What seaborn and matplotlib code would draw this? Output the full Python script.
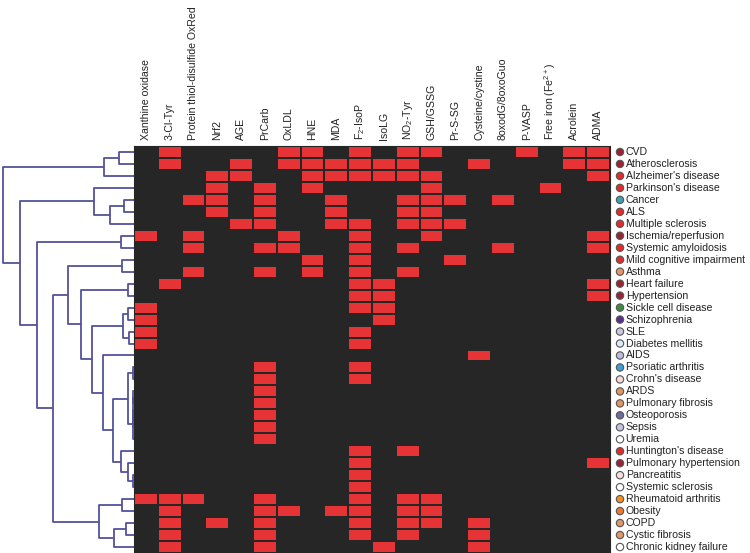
import matplotlib
matplotlib.use("Agg")
import matplotlib.pyplot as plt
from matplotlib.colors import ListedColormap
import numpy as np
import pandas as pd
import seaborn as sns

sns.set_style("white")
plt.rcParams['font.family'] = ['Liberation Sans', 'DejaVu Sans']
plt.rcParams['mathtext.default'] = 'regular'

# biomarkers (columns)
markers = ["Xanthine oxidase", "3-Cl-Tyr", "Protein thiol-disulfide OxRed", "Nrf2", "AGE",
           "PrCarb", "OxLDL", "HNE", "MDA", "F$_2$-IsoP", "IsoLG", "NO$_2$-Tyr", "GSH/GSSG",
           "Pr-S-SG", "Cysteine/cystine", "8oxodG/8oxoGuo", "P-VASP", "Free iron (Fe$^{2+}$)",
           "Acrolein", "ADMA"]

# diseases (rows), in dendrogram order
diseases = ["CVD", "Atherosclerosis", "Alzheimer's disease", "Parkinson's disease", "Cancer",
            "ALS", "Multiple sclerosis", "Ischemia/reperfusion", "Systemic amyloidosis",
            "Mild cognitive impairment", "Asthma", "Heart failure", "Hypertension",
            "Sickle cell disease", "Schizophrenia", "SLE", "Diabetes mellitis", "AIDS",
            "Psoriatic arthritis", "Crohn's disease", "ARDS", "Pulmonary fibrosis",
            "Osteoporosis", "Sepsis", "Uremia", "Huntington's disease",
            "Pulmonary hypertension", "Pancreatitis", "Systemic sclerosis",
            "Rheumatoid arthritis", "Obesity", "COPD", "Cystic fibrosis",
            "Chronic kidney failure"]

# which biomarkers (column index) are reported for each disease
hits = [
    [1, 6, 7, 9, 11, 12, 16, 18, 19],
    [1, 4, 6, 7, 8, 9, 10, 11, 14, 18, 19],
    [3, 4, 7, 8, 9, 10, 11, 12, 19],
    [3, 5, 7, 12, 17],
    [2, 3, 5, 8, 11, 12, 13, 15],
    [3, 5, 8, 11, 12],
    [4, 5, 8, 9, 11, 12, 13],
    [0, 2, 6, 9, 12, 19],
    [2, 5, 6, 9, 11, 15, 19],
    [7, 9, 13],
    [2, 5, 7, 9, 11],
    [1, 9, 10, 19],
    [9, 10, 19],
    [0, 9, 10],
    [0, 10],
    [0, 9],
    [0, 9],
    [14],
    [5, 9],
    [5, 9],
    [5],
    [5],
    [5],
    [5],
    [5],
    [9, 11],
    [9, 19],
    [9],
    [9],
    [0, 1, 2, 5, 9, 11, 12],
    [1, 5, 6, 8, 9, 11, 12],
    [1, 3, 5, 9, 11, 12, 14],
    [1, 5, 9, 11, 14],
    [1, 5, 10, 14],
]

# disease category colours (dots next to labels)
dark_red, red, tan = "#9b2335", "#e32b2b", "#e0956a"
dot_colors = [dark_red, dark_red, red, red, "#3f9fb4", red, red, dark_red, red, red,
              tan, dark_red, dark_red, "#3d8c40", "#5b2d8e", "#c9c9e3", "#d7ecf5",
              "#bdbddb", "#3a9fd6", "#f6d9d9", "#df9464", "#df9464", "#6c6a9e",
              "#c4c4e2", "white", red, dark_red, "#f9dede", "white", "#f39021",
              "#eb7a33", tan, tan, "white"]

# dendrogram: (height, left, right), leaves are row indices
tree = (131.3,
        (29.7, (14.7, 0, 1), 2),
        (113.7,
         (39.7, 3, (24.3, (10.3, 4, 5), 6)),
         (97.0,
          (13.0, 7, 8),
          (81.3,
           (65.7,
            (12.3, 9, 10),
            (53.0,
             (5.7, 11, 12),
             (42.3,
              (11.3, (5.7, 13, 14), (4.7, 15, 16)),
              (31.3, 17,
               (21.3,
                (6.3, (1.0, 18, 19), (1.0, (0.6, (0.6, 20, 21), (0.6, 22, 23)), 24)),
                (13.0, 25, (6.3, 26, (0.8, 27, 28)))))))),
           (34.7, (12.3, 29, 30), (20.3, (8.0, 31, 32), 33))))))

mat = np.zeros((len(diseases), len(markers)))
for i, cols in enumerate(hits):
    mat[i, cols] = 1
df = pd.DataFrame(mat, index=diseases, columns=markers)

fig = plt.figure(figsize=(7.5, 5.53), dpi=100)
W, H = 750, 553
ax = fig.add_axes([134 / W, 0, 476 / W, 407 / H])
axd = fig.add_axes([0, 0, 134 / W, 407 / H])

sns.heatmap(df, ax=ax, cmap=ListedColormap(["#262626", "#e63336"]), cbar=False,
            linewidths=1.4, linecolor="#262626", vmin=0, vmax=1)
ax.xaxis.tick_top()
ax.set_xticks(np.arange(len(markers)) + 0.5)
ax.set_xticklabels(markers, rotation=90, fontsize=7.6, color="#222222")
ax.tick_params(axis='x', length=0, pad=4)
ax.set_yticks([])
ax.set_xlabel("")
ax.set_ylabel("")
for s in ax.spines.values():
    s.set_visible(True)
    s.set_color("#262626")

# dots and labels at right
ys = np.arange(len(diseases)) + 0.5
ax.scatter(np.full(len(diseases), 20.42), ys, s=28, c=dot_colors, edgecolors="#555555",
           linewidths=0.8, clip_on=False, zorder=5)
for y, name in zip(ys, diseases):
    ax.text(20.66, y, name, va='center', ha='left', fontsize=7.6, color="#222222",
            clip_on=False)

# dendrogram
line_col = "#52529c"


def draw(node):
    if isinstance(node, int):
        return node + 0.5, 0.0
    h, left, right = node
    y1, h1 = draw(left)
    y2, h2 = draw(right)
    axd.plot([h1, h, h, h2], [y1, y1, y2, y2], color=line_col, lw=1.3,
             solid_capstyle='butt')
    return (y1 + y2) / 2, h


draw(tree)
axd.set_xlim(134, 0)
axd.set_ylim(len(diseases), 0)
axd.axis('off')

fig.savefig("out.png", dpi=100)
